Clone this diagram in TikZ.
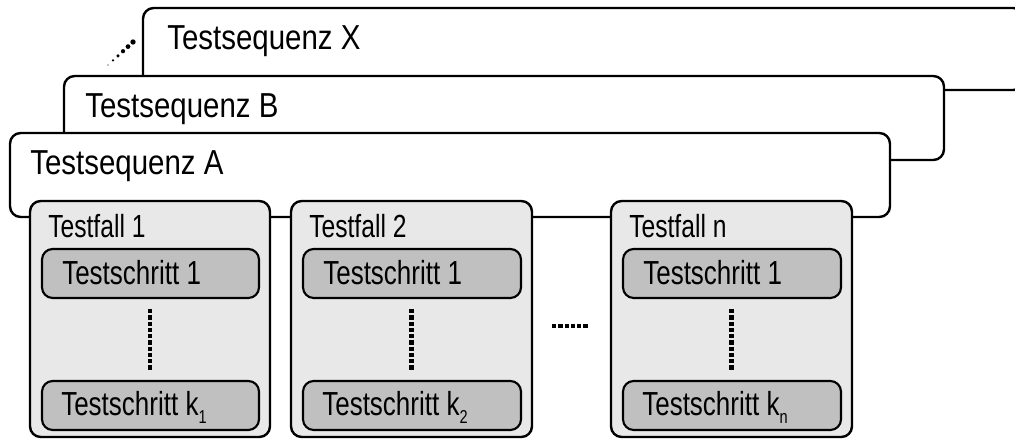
\documentclass[tikz,border=0pt]{standalone}
\usepackage{fontspec}
\usetikzlibrary{calc}
\newfontfamily\seqfont[FakeStretch=0.85]{Liberation Sans}
\newfontfamily\tffont[FakeStretch=0.77]{Liberation Sans}
\newfontfamily\tsfont[FakeStretch=0.78]{Liberation Sans}
\definecolor{tfgray}{HTML}{E8E8E8}
\definecolor{tsgray}{HTML}{C0C0C0}
\newcommand{\tssub}[1]{\raisebox{-6pt}{\fontsize{14pt}{15pt}\selectfont #1}}
\begin{document}
\begin{tikzpicture}[x=0.75pt,y=-0.75pt,
  frame/.style={draw=black,line width=1.8pt,rounded corners=8pt},
  seqbox/.style={frame,fill=white},
  tfbox/.style={frame,fill=tfgray},
  tsbox/.style={frame,fill=tsgray,line width=1.6pt},
  seqtext/.style={anchor=base west,inner sep=0pt,font=\seqfont\fontsize{26pt}{28pt}\selectfont},
  tftext/.style={anchor=base west,inner sep=0pt,font=\tffont\fontsize{24pt}{26pt}\selectfont},
  tstext/.style={anchor=base west,inner sep=0pt,font=\tsfont\fontsize{25pt}{27pt}\selectfont},
  dotline/.style={line width=3.4pt,dash pattern=on 3.2pt off 1.5pt}
]
\clip (0,0) rectangle (1015,441);
% Testsequenz X (behind)
\draw[seqbox] (143,90) rectangle (1024,8);
\node[seqtext] (seqX) at (167,50) {Testsequenz X};
\foreach \t/\r in {0/0.5,0.2/1.0,0.4/1.3,0.6/1.6,0.8/1.8,1/2.0}
  \fill ($(108,65)!\t!(133,42)$) circle[radius=\r pt];
% Testsequenz B
\draw[seqbox] (64,160) rectangle (944,76);
\node[seqtext] (seqB) at (85,118) {Testsequenz B};
% Testsequenz A
\draw[seqbox] (10,217) rectangle (890,133);
\node[seqtext] (seqA) at (30,175) {Testsequenz A};
% Testfaelle
\foreach \n/\xl/\xr/\lab/\sub in {1/30/270/1/1, 2/291/532/2/2, n/611/852/n/n}{
  \draw[tfbox] (\xl,437) rectangle (\xr,201);
  \node[tftext] (tf\n) at ({\xl+18},238) {Testfall \lab};
  \draw[tsbox] ({\xl+12},298) rectangle ({\xr-11},249);
  \node[tstext] (tsa\n) at ({\xl+32},285) {Testschritt 1};
  \draw[tsbox] ({\xl+12},430) rectangle ({\xr-11},381);
  \node[tstext] (tsk\n) at ({\xl+31},416) {Testschritt k\tssub{\sub}};
  \draw[dotline] ({(\xl+\xr)/2},309) -- ({(\xl+\xr)/2},370);
}
\draw[dotline] (552,326) -- (589,326);
\end{tikzpicture}
\end{document}
